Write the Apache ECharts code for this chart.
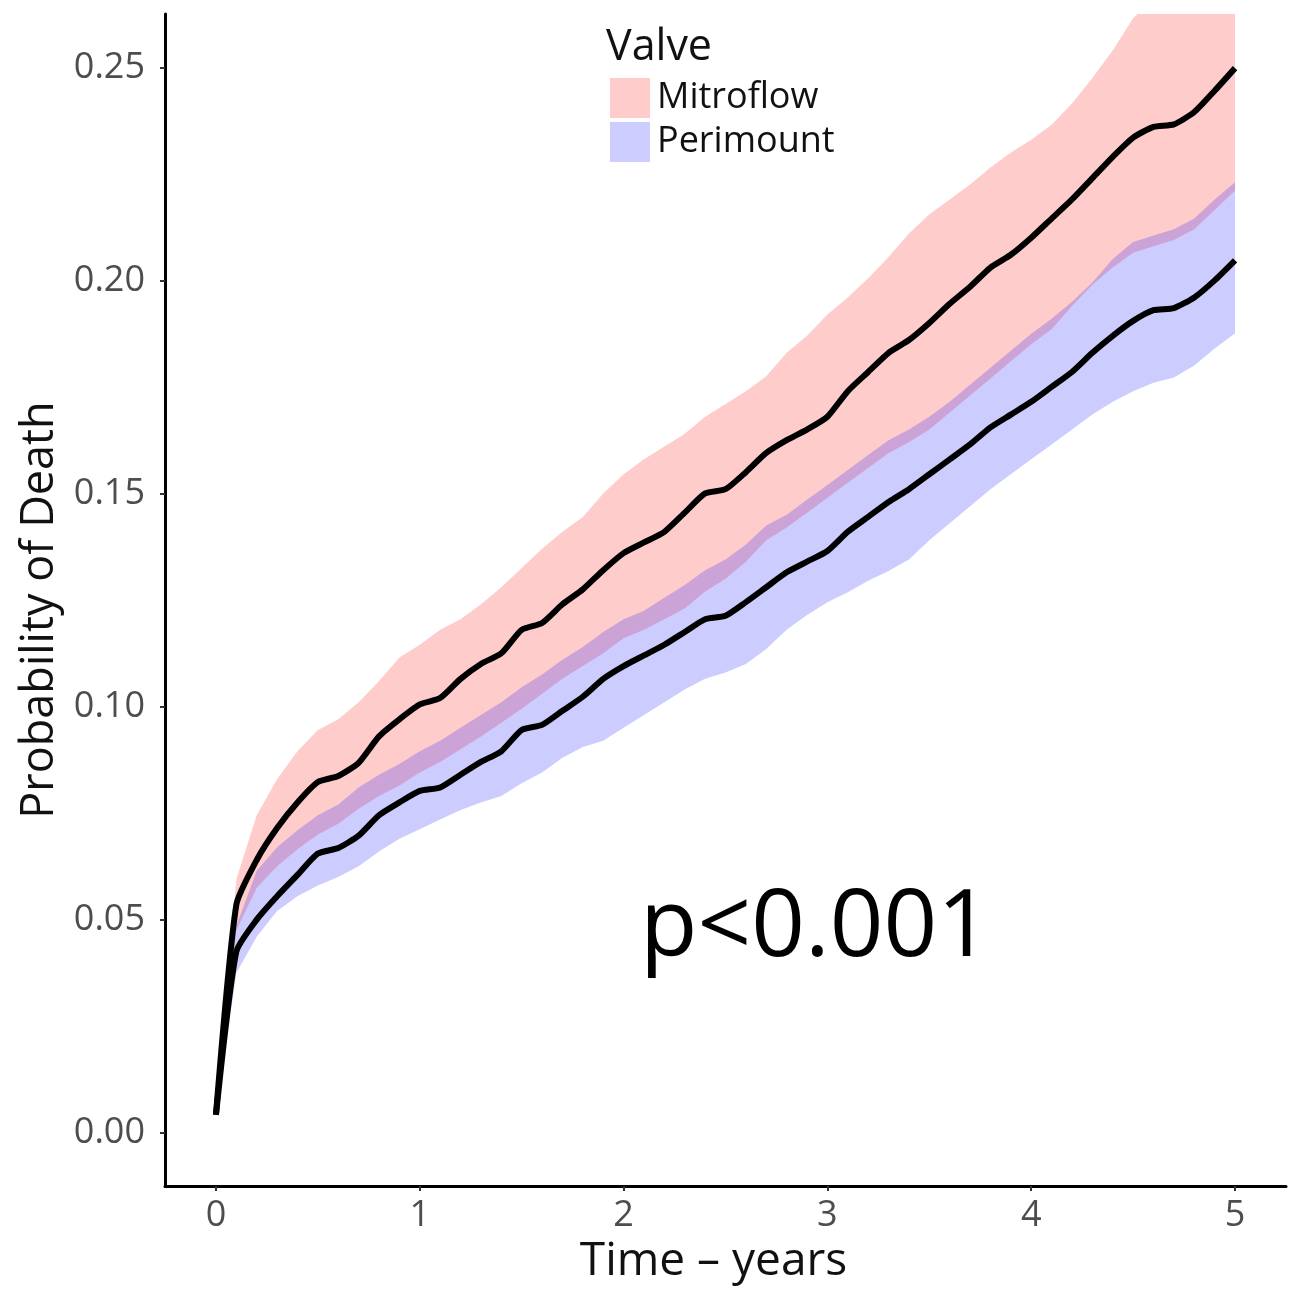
<!DOCTYPE html>
<html>
<head>
<meta charset="utf-8">
<title>Probability of Death by Valve</title>
<script src="https://cdn.jsdelivr.net/npm/echarts@6/dist/echarts.min.js"></script>
<style>
  html, body { margin: 0; padding: 0; background: #fff; }
  #chart { width: 1295px; height: 1290px; }
</style>
</head>
<body>
<div id="chart"></div>
<script>
// --- dados (tempo em anos) ---
const years = [0, 0.1, 0.2, 0.3, 0.4, 0.5, 0.6, 0.7, 0.8, 0.9,
  1.0, 1.1, 1.2, 1.3, 1.4, 1.5, 1.6, 1.7, 1.8, 1.9,
  2.0, 2.1, 2.2, 2.3, 2.4, 2.5, 2.6, 2.7, 2.8, 2.9,
  3.0, 3.1, 3.2, 3.3, 3.4, 3.5, 3.6, 3.7, 3.8, 3.9,
  4.0, 4.1, 4.2, 4.3, 4.4, 4.5, 4.6, 4.7, 4.8, 4.9, 5.0];

// Mitroflow
const mitroMid = [0.0042, 0.0535, 0.0640, 0.0715, 0.0775, 0.0823, 0.0837, 0.0868, 0.0930, 0.0970,
  0.1005, 0.1020, 0.1065, 0.1100, 0.1125, 0.1180, 0.1196, 0.1240, 0.1275, 0.1320,
  0.1360, 0.1385, 0.1410, 0.1455, 0.1500, 0.1510, 0.1550, 0.1595, 0.1625, 0.1650,
  0.1680, 0.1740, 0.1785, 0.1830, 0.1860, 0.1900, 0.1945, 0.1985, 0.2030, 0.2060,
  0.2100, 0.2145, 0.2190, 0.2240, 0.2290, 0.2335, 0.2360, 0.2366, 0.2395, 0.2445, 0.2498];
const mitroLow = [0.0042, 0.0475, 0.0575, 0.0625, 0.0665, 0.0700, 0.0725, 0.0760, 0.0790, 0.0815,
  0.0845, 0.0870, 0.0900, 0.0930, 0.0962, 0.0995, 0.1030, 0.1065, 0.1095, 0.1125,
  0.1160, 0.1180, 0.1205, 0.1230, 0.1270, 0.1300, 0.1340, 0.1390, 0.1420, 0.1455,
  0.1490, 0.1525, 0.1560, 0.1595, 0.1620, 0.1650, 0.1690, 0.1730, 0.1770, 0.1810,
  0.1850, 0.1885, 0.1940, 0.1990, 0.2030, 0.2065, 0.2080, 0.2095, 0.2120, 0.2165, 0.2211];
const mitroHigh = [0.0042, 0.0595, 0.0745, 0.0830, 0.0895, 0.0945, 0.0970, 0.1010, 0.1060, 0.1115,
  0.1145, 0.1180, 0.1205, 0.1240, 0.1280, 0.1325, 0.1370, 0.1410, 0.1445, 0.1500,
  0.1545, 0.1580, 0.1610, 0.1640, 0.1680, 0.1710, 0.1740, 0.1775, 0.1830, 0.1870,
  0.1920, 0.1960, 0.2005, 0.2055, 0.2110, 0.2155, 0.2190, 0.2225, 0.2265, 0.2300,
  0.2330, 0.2365, 0.2415, 0.2475, 0.2540, 0.2615, 0.2660, 0.2690, 0.2720, 0.2760, 0.2810];

// Perimount
const periMid = [0.0042, 0.0425, 0.0500, 0.0555, 0.0605, 0.0655, 0.0668, 0.0697, 0.0745, 0.0775,
  0.0802, 0.0810, 0.0840, 0.0870, 0.0895, 0.0945, 0.0957, 0.0990, 0.1023, 0.1065,
  0.1095, 0.1120, 0.1145, 0.1175, 0.1205, 0.1213, 0.1245, 0.1280, 0.1315, 0.1340,
  0.1365, 0.1410, 0.1445, 0.1480, 0.1510, 0.1545, 0.1580, 0.1615, 0.1655, 0.1685,
  0.1715, 0.1750, 0.1785, 0.1830, 0.1870, 0.1905, 0.1930, 0.1935, 0.1960, 0.2000, 0.2047];
const periLow = [0.0042, 0.0375, 0.0460, 0.0520, 0.0555, 0.0580, 0.0600, 0.0625, 0.0660, 0.0690,
  0.0712, 0.0735, 0.0757, 0.0775, 0.0790, 0.0820, 0.0845, 0.0880, 0.0905, 0.0920,
  0.0950, 0.0980, 0.1010, 0.1040, 0.1065, 0.1080, 0.1100, 0.1135, 0.1180, 0.1215,
  0.1245, 0.1268, 0.1295, 0.1318, 0.1345, 0.1390, 0.1430, 0.1470, 0.1510, 0.1545,
  0.1580, 0.1615, 0.1650, 0.1685, 0.1715, 0.1740, 0.1760, 0.1772, 0.1800, 0.1840, 0.1876];
const periHigh = [0.0042, 0.0485, 0.0615, 0.0670, 0.0710, 0.0745, 0.0770, 0.0810, 0.0840, 0.0865,
  0.0895, 0.0920, 0.0950, 0.0980, 0.1010, 0.1045, 0.1075, 0.1110, 0.1140, 0.1175,
  0.1205, 0.1225, 0.1255, 0.1285, 0.1320, 0.1345, 0.1380, 0.1425, 0.1450, 0.1485,
  0.1520, 0.1555, 0.1590, 0.1625, 0.1650, 0.1680, 0.1715, 0.1755, 0.1795, 0.1835,
  0.1875, 0.1910, 0.1950, 0.1995, 0.2050, 0.2090, 0.2105, 0.2120, 0.2145, 0.2190, 0.2230];

const xTicks = [0, 1, 2, 3, 4, 5];
const yTicks = [0, 0.05, 0.10, 0.15, 0.20, 0.25];
const valveNames = ['Mitroflow', 'Perimount'];
const pValueText = 'p<0.001';

const corMitro = 'rgba(255, 0, 0, 0.2)';
const corPeri = 'rgba(0, 0, 255, 0.2)';

const pares = (arr) => years.map((x, i) => [x, arr[i]]);

// faixa de confiança: polígono (superior + inferior invertido) pelas coordenadas do eixo
function serieFaixa(nome, hi, lo, cor) {
    return {
        name: nome, type: 'custom', silent: true, clip: true,
        itemStyle: { color: cor },
        data: [0],
        renderItem: (params, api) => {
            const pts = [];
            years.forEach((x, i) => pts.push(api.coord([x, hi[i]])));
            for (let i = years.length - 1; i >= 0; i--) pts.push(api.coord([years[i], lo[i]]));
            return {
                type: 'polygon',
                shape: { points: pts },
                style: { fill: cor, stroke: null }
            };
        }
    };
}
function serieLinha(nome, dados) {
    return {
        name: nome, type: 'line', data: dados,
        symbol: 'none', smooth: 0.2, silent: true,
        lineStyle: { color: '#000', width: 6 }
    };
}

const chart = echarts.init(document.getElementById('chart'), null, { renderer: 'canvas' });
chart.setOption({
    animation: false,
    backgroundColor: '#fff',
    textStyle: { fontFamily: 'Open Sans' },
    grid: { left: 165, right: 9, top: 14, bottom: 104, containLabel: false },
    title: {
        text: 'Valve', left: 606, top: 26, padding: 0,
        textStyle: { fontSize: 43, fontWeight: 'normal', color: '#111', fontFamily: 'Open Sans' }
    },
    legend: {
        orient: 'vertical', left: 610, top: 78, padding: 0,
        itemWidth: 40, itemHeight: 40, itemGap: 4,
        icon: 'rect',
        data: [
            { name: valveNames[0], itemStyle: { color: corMitro, borderWidth: 0 } },
            { name: valveNames[1], itemStyle: { color: corPeri, borderWidth: 0 } }
        ],
        textStyle: { fontSize: 36, color: '#111', padding: [4, 0, 0, 2] },
        selectedMode: false
    },
    xAxis: {
        type: 'value', min: -0.25, max: 5.25,
        name: 'Time \u2013 years', nameLocation: 'middle', nameGap: 12,
        nameTextStyle: { fontSize: 46, color: '#111', padding: [0, 24, 0, 0] },
        axisLine: { show: true, onZero: false, lineStyle: { color: '#000', width: 3 } },
        axisTick: { show: true, customValues: xTicks, length: 5, lineStyle: { color: '#333', width: 2 } },
        axisLabel: { customValues: xTicks, fontSize: 36, color: '#4d4d4d', margin: 12,
            formatter: v => String(v) },
        splitLine: { show: false }
    },
    yAxis: {
        type: 'value', min: -0.0125, max: 0.2625,
        name: 'Probability of Death', nameLocation: 'middle', nameGap: 98, nameRotate: 90,
        nameTextStyle: { fontSize: 45, color: '#111', padding: [0, 20, 0, 0] },
        axisLine: { show: true, onZero: false, lineStyle: { color: '#000', width: 3 } },
        axisTick: { show: true, customValues: yTicks, length: 5, lineStyle: { color: '#333', width: 2 } },
        axisLabel: { customValues: yTicks, fontSize: 36, color: '#4d4d4d', margin: 20,
            formatter: v => v.toFixed(2) },
        splitLine: { show: false }
    },
    graphic: [{
        type: 'text', left: 640, top: 882,
        style: { text: pValueText, fontSize: 94, fill: '#000', fontFamily: 'Open Sans' }
    }],
    series: [
        serieFaixa(valveNames[0], mitroHigh, mitroLow, corMitro),
        serieFaixa(valveNames[1], periHigh, periLow, corPeri),
        serieLinha('mitroLinha', pares(mitroMid)),
        serieLinha('periLinha', pares(periMid))
    ]
});
window.addEventListener('resize', () => chart.resize());
</script>
</body>
</html>
